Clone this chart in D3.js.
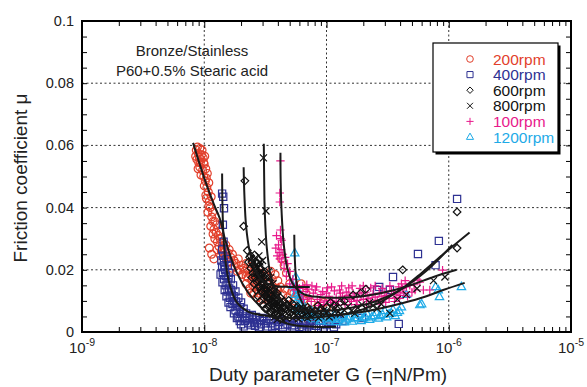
<!DOCTYPE html>
<html>
<head>
<meta charset="utf-8">
<script src="https://cdn.jsdelivr.net/npm/d3@7"></script>
<style>
  body { margin: 0; background: #fff; }
  svg { display: block; font-family: "Liberation Sans", Arial, sans-serif; }
</style>
</head>
<body>
<div id="chart"></div>
<script>
// Friction coefficient vs duty parameter (Stribeck-type plot), log x axis

const G_DECADES = [1e-9, 1e-8, 1e-7, 1e-6, 1e-5];
const G_EXPONENTS = ["-9", "-8", "-7", "-6", "-5"];
const MU_TICKS = [0, 0.02, 0.04, 0.06, 0.08, 0.1];
const MU_LABELS = ["0", "0.02", "0.04", "0.06", "0.08", "0.1"];

const SERIES_NAMES = ["200rpm", "400rpm", "600rpm", "800rpm", "100rpm", "1200rpm"];

// [G, mu]
const rpm200 = [
  [8.6e-9,0.0585],[8.9e-9,0.0575],[9.2e-9,0.059],[9.5e-9,0.057],[8.7e-9,0.0555],[9.0e-9,0.0545],
  [9.4e-9,0.0555],[9.8e-9,0.056],[1.0e-8,0.054],[9.2e-9,0.053],[9.7e-9,0.052],[1.03e-8,0.0525],
  [1.06e-8,0.051],[9.9e-9,0.05],[1.02e-8,0.0485],[1.05e-8,0.0465],[1.08e-8,0.045],[1.04e-8,0.043],
  [1.1e-8,0.042],[1.12e-8,0.04],[1.07e-8,0.0385],[1.15e-8,0.037],[1.18e-8,0.0355],[1.13e-8,0.034],
  [1.2e-8,0.033],[1.25e-8,0.032],[1.3e-8,0.031],[1.22e-8,0.03],[1.28e-8,0.029],[1.35e-8,0.03],
  [1.4e-8,0.0285],[1.32e-8,0.0275],[1.45e-8,0.027],[1.5e-8,0.028],[1.38e-8,0.026],[1.55e-8,0.0255],
  [1.6e-8,0.0265],[1.48e-8,0.0245],[1.65e-8,0.024],[1.7e-8,0.025],[1.75e-8,0.023],[1.58e-8,0.0225],
  [1.82e-8,0.022],[1.9e-8,0.0235],[1.1e-8,0.027],[1.15e-8,0.025],[1.2e-8,0.0235],
  [2.0e-8,0.0215],[2.1e-8,0.0205],[2.2e-8,0.022],[2.3e-8,0.0195],[2.4e-8,0.021],[2.5e-8,0.0185],
  [2.6e-8,0.02],[2.2e-8,0.018],[2.7e-8,0.0175],[2.85e-8,0.019],[3.0e-8,0.0165],[2.45e-8,0.0165],
  [3.2e-8,0.018],[3.4e-8,0.0155],[2.9e-8,0.015],[2.35e-8,0.014],[2.55e-8,0.0125],[2.7e-8,0.011],
  [3.6e-8,0.017],[3.9e-8,0.014],[4.3e-8,0.0235],[4.5e-8,0.0215],[4.7e-8,0.019],[4.4e-8,0.012],
  [4.8e-8,0.011],[5.2e-8,0.013],[5.5e-8,0.01],[6.2e-8,0.0155],[6.0e-8,0.009],[6.8e-8,0.0125],
  [7.5e-8,0.0095],[8.5e-8,0.008],[9.5e-8,0.0095],[1.0e-7,0.0075],[7.3e-8,0.003],
  [8.5e-9,0.0565],[8.8e-9,0.0595],[9.1e-9,0.0562],[9.3e-9,0.0545],[9.6e-9,0.0585],[9.9e-9,0.0545],
  [1.01e-8,0.0565],[8.9e-9,0.0525],[9.4e-9,0.0505],[1.04e-8,0.0495],[1.0e-8,0.047],[1.09e-8,0.048],
  [1.03e-8,0.044],[1.14e-8,0.0435],[1.09e-8,0.0405],[1.17e-8,0.0385],[1.22e-8,0.0355],[1.26e-8,0.0345],
  [1.18e-8,0.0315],[1.33e-8,0.0325],[1.27e-8,0.0265],[1.36e-8,0.0245],[1.42e-8,0.0255],[1.53e-8,0.0235],
  [1.62e-8,0.0225],[1.68e-8,0.0205],[1.78e-8,0.021],[1.86e-8,0.0195],[1.95e-8,0.02],[2.05e-8,0.0185],
  [2.15e-8,0.0195],[2.28e-8,0.0175],[2.38e-8,0.0185],[2.62e-8,0.016],[2.78e-8,0.0145],[2.5e-8,0.015],
  [3.1e-8,0.0135],[3.3e-8,0.0125],[3.55e-8,0.0135],[3.75e-8,0.012],
  [2.2e-8,0.0155],[2.4e-8,0.0125],[2.6e-8,0.0145],[2.8e-8,0.0125],[3.0e-8,0.0105],[3.3e-8,0.0105],
  [3.5e-8,0.0195],[3.8e-8,0.0185],[4.0e-8,0.0165],[4.2e-8,0.0145],[4.6e-8,0.0138],[5.0e-8,0.0155],
  [5.4e-8,0.0125],[5.8e-8,0.0118],[6.5e-8,0.0105]
];

const rpm400 = [
  [1.4e-8,0.0445],[1.43e-8,0.0435],[1.45e-8,0.0398],[1.42e-8,0.0345],[1.44e-8,0.029],[1.4e-8,0.0265],
  [1.43e-8,0.0245],[1.38e-8,0.023],[1.45e-8,0.0225],[1.52e-8,0.0235],[1.4e-8,0.021],[1.48e-8,0.02],
  [1.56e-8,0.0215],[1.42e-8,0.019],[1.5e-8,0.018],[1.6e-8,0.019],[1.45e-8,0.017],[1.55e-8,0.016],
  [1.65e-8,0.017],[1.5e-8,0.015],[1.6e-8,0.014],[1.72e-8,0.015],[1.55e-8,0.013],[1.68e-8,0.012],
  [1.8e-8,0.013],[1.62e-8,0.011],[1.75e-8,0.01],[1.9e-8,0.011],[1.7e-8,0.009],[1.85e-8,0.0085],
  [2.0e-8,0.0095],[1.8e-8,0.007],[1.95e-8,0.0065],[2.1e-8,0.0075],[1.9e-8,0.005],[2.05e-8,0.0045],
  [2.2e-8,0.006],[2.35e-8,0.005],[2.15e-8,0.0035],[2.3e-8,0.0028],[2.5e-8,0.004],[2.7e-8,0.003],
  [2.6e-8,0.002],[2.9e-8,0.0025],[3.1e-8,0.0035],[3.3e-8,0.0018],[3.5e-8,0.0028],[3.8e-8,0.002],
  [4.1e-8,0.0032],[4.4e-8,0.0015],[4.8e-8,0.0025],[5.2e-8,0.0018],[5.6e-8,0.003],[6.0e-8,0.0016],
  [6.5e-8,0.0025],[7.0e-8,0.0018],[7.6e-8,0.003],[8.2e-8,0.002],[9.0e-8,0.0028],[1.0e-7,0.0022],
  [1.1e-7,0.0032],[1.2e-7,0.0025],[1.35e-7,0.0035],
  [1.75e-8,0.006],[1.85e-8,0.0045],[1.95e-8,0.0035],[2.0e-8,0.0025],[2.1e-8,0.0018],[2.25e-8,0.0045],
  [2.4e-8,0.0022],[2.45e-8,0.0055],[2.55e-8,0.003],[2.65e-8,0.0048],[2.8e-8,0.0015],[2.85e-8,0.0038],
  [3.0e-8,0.0045],[3.2e-8,0.0028],[3.4e-8,0.0042],[3.6e-8,0.0015],[3.7e-8,0.0038],[4.0e-8,0.0022],
  [4.3e-8,0.0038],[4.6e-8,0.0022],[5.0e-8,0.0035],[5.4e-8,0.0022],[5.8e-8,0.0038],[6.3e-8,0.0012],
  [6.8e-8,0.0035],[7.3e-8,0.0024],[7.9e-8,0.0013],[8.6e-8,0.0036],[9.5e-8,0.0014],[1.05e-7,0.0028],
  [1.15e-7,0.0015],[1.25e-7,0.0038],
  [1.36e-8,0.0185],[1.41e-8,0.016],[1.47e-8,0.0135],[1.52e-8,0.0115],[1.58e-8,0.0095],[1.64e-8,0.008],
  [1.46e-8,0.0215],[1.58e-8,0.0175],[1.66e-8,0.0135],[1.74e-8,0.0115],[1.82e-8,0.0098],[1.96e-8,0.008],
  [2.08e-8,0.0062],
  [1.17e-6,0.0428],[8.3e-7,0.0293],[5.6e-7,0.0251],[7.8e-7,0.0215],[3.5e-7,0.0177],[2.7e-7,0.0145],
  [2.6e-7,0.0135],[3.3e-7,0.0135],[1.95e-7,0.0045],[3.9e-7,0.0026]
];

const rpm600 = [
  [2.15e-8,0.0486],[2.1e-8,0.034],[2.25e-8,0.0262],[2.35e-8,0.024],[2.45e-8,0.0225],[2.4e-8,0.0205],
  [2.55e-8,0.0215],[2.5e-8,0.019],[2.65e-8,0.02],[2.6e-8,0.0175],[2.75e-8,0.0185],[2.7e-8,0.016],
  [2.85e-8,0.017],[2.8e-8,0.0145],[2.95e-8,0.0155],[3.0e-8,0.013],[3.1e-8,0.014],[3.2e-8,0.012],
  [3.3e-8,0.011],[3.45e-8,0.0125],[3.6e-8,0.01],[3.8e-8,0.0095],[4.0e-8,0.0085],[4.3e-8,0.009],
  [4.6e-8,0.0075],[5.0e-8,0.008],[5.5e-8,0.007],[6.0e-8,0.0075],[6.6e-8,0.0065],[7.2e-8,0.007],
  [8.0e-8,0.0068],[9.0e-8,0.0075],[1.0e-7,0.008],[1.15e-7,0.0085],[1.3e-7,0.0095],
  [2.3e-8,0.0225],[2.4e-8,0.0245],[2.5e-8,0.0235],[2.58e-8,0.021],[2.68e-8,0.019],[2.62e-8,0.0225],
  [2.78e-8,0.0165],[2.9e-8,0.0185],[2.9e-8,0.0135],[3.05e-8,0.0155],[3.15e-8,0.0115],[3.25e-8,0.0135],
  [3.4e-8,0.0105],[3.55e-8,0.0115],[3.7e-8,0.0085],[3.9e-8,0.011],[4.1e-8,0.0095],[4.4e-8,0.0078],
  [4.8e-8,0.0088],[5.2e-8,0.0065],[5.8e-8,0.0082],[6.3e-8,0.006],[7.0e-8,0.008],[7.6e-8,0.006],
  [8.5e-8,0.0085],[9.5e-8,0.0065],[1.08e-7,0.0095],[1.2e-7,0.0075],
  [2.45e-8,0.0175],[2.55e-8,0.0155],[2.65e-8,0.0135],[2.75e-8,0.0115],[2.85e-8,0.0098],[3.0e-8,0.0088],
  [3.15e-8,0.0075],[3.35e-8,0.0082],[3.5e-8,0.0065],[3.75e-8,0.0072],[4.0e-8,0.0058],[4.3e-8,0.0065],
  [2.58e-8,0.0248],[2.72e-8,0.0222],[2.88e-8,0.0205],[3.02e-8,0.0192],[3.18e-8,0.0172],[3.35e-8,0.0162],
  [3.5e-8,0.0145],[3.7e-8,0.0135],[3.95e-8,0.0125],[4.2e-8,0.011],[4.5e-8,0.0098],[4.9e-8,0.0102],
  [5.3e-8,0.009],
  [1.4e-7,0.01],[1.65e-7,0.0119],[1.9e-7,0.0125],[2.1e-7,0.0138],[4.2e-7,0.02],[1.17e-6,0.027],
  [1.17e-6,0.0386]
];

const rpm800 = [
  [3.05e-8,0.056],[3.2e-8,0.0389],[2.95e-8,0.029],[2.8e-8,0.0245],[3.0e-8,0.023],[2.9e-8,0.0215],
  [3.1e-8,0.02],[3.0e-8,0.0185],[3.2e-8,0.0175],[3.15e-8,0.016],[3.35e-8,0.015],[3.3e-8,0.0135],
  [3.5e-8,0.0125],[3.45e-8,0.011],[3.7e-8,0.0105],[3.6e-8,0.009],[3.9e-8,0.0085],[3.8e-8,0.007],
  [4.1e-8,0.0075],[4.3e-8,0.006],[4.6e-8,0.0065],[4.5e-8,0.005],[4.9e-8,0.0055],[5.3e-8,0.0045],
  [5.7e-8,0.0055],[6.2e-8,0.0048],[6.8e-8,0.0058],[7.4e-8,0.005],[8.2e-8,0.006],[9.0e-8,0.0052],
  [1.0e-7,0.0062],[1.1e-7,0.0055],[1.25e-7,0.0065],[1.4e-7,0.007],[1.6e-7,0.0068],[1.8e-7,0.0078],
  [2.1e-7,0.0075],[2.4e-7,0.0085],[2.8e-7,0.009],[3.3e-7,0.006],[3.8e-7,0.0105],[4.5e-7,0.012],
  [5.5e-7,0.014],[7.5e-7,0.0165],[9.3e-7,0.0177],
  [2.85e-8,0.0225],[2.95e-8,0.0195],[3.05e-8,0.0168],[3.1e-8,0.0145],[3.25e-8,0.0125],[3.4e-8,0.0098],
  [3.55e-8,0.008],[3.7e-8,0.0118],[3.85e-8,0.0095],[4.0e-8,0.0062],[4.2e-8,0.0085],[4.4e-8,0.0072],
  [4.7e-8,0.0045],[5.0e-8,0.0068],[5.4e-8,0.006],[5.9e-8,0.0042],[6.4e-8,0.0065],[7.0e-8,0.0045],
  [7.7e-8,0.0068],[8.6e-8,0.0045],[9.5e-8,0.007],[1.05e-7,0.0048],[1.18e-7,0.0075],[1.3e-7,0.0058],
  [1.5e-7,0.0082],[1.7e-7,0.006],[1.95e-7,0.0088],[2.25e-7,0.0095],[2.6e-7,0.0075],
  [2.75e-8,0.0205],[2.82e-8,0.0185],[2.9e-8,0.0165],[2.98e-8,0.014],[3.08e-8,0.0122],[3.2e-8,0.0105],
  [3.3e-8,0.0088],[3.45e-8,0.0072],[3.6e-8,0.0058],[3.75e-8,0.0048],[3.95e-8,0.004],[4.15e-8,0.0048],
  [4.4e-8,0.0038],[3.35e-8,0.0195],[3.5e-8,0.0175],[3.65e-8,0.0155],[3.82e-8,0.0135],[4.0e-8,0.0118],
  [4.25e-8,0.0102],[4.5e-8,0.009],[4.8e-8,0.008],[5.1e-8,0.0088],[5.6e-8,0.0072],[6.1e-8,0.0078],
  [6.7e-8,0.0072]
];

const rpm100 = [
  [4.2e-8,0.055],[4.15e-8,0.0447],[4.15e-8,0.0418],[4.2e-8,0.0328],[4.2e-8,0.03],[4.05e-8,0.028],
  [4.1e-8,0.0255],[4.15e-8,0.0235],[3.9e-8,0.031],[4.3e-8,0.0295],[3.85e-8,0.027],[4.25e-8,0.0265],
  [4.4e-8,0.025],[3.95e-8,0.0245],[4.6e-8,0.024],[4.3e-8,0.0225],[4.8e-8,0.022],[4.5e-8,0.0205],
  [5.0e-8,0.0195],[4.7e-8,0.018],[5.3e-8,0.017],[5.0e-8,0.0155],[5.6e-8,0.015],[5.4e-8,0.0135],
  [6.0e-8,0.014],[6.3e-8,0.012],[6.8e-8,0.013],[7.2e-8,0.011],[7.8e-8,0.0125],[8.4e-8,0.0105],
  [9.0e-8,0.012],[9.7e-8,0.01],[1.05e-7,0.0115],[1.12e-7,0.0095],[1.2e-7,0.011],[1.3e-7,0.0125],
  [1.28e-7,0.0135],[1.4e-7,0.0105],[1.5e-7,0.0118],[1.6e-7,0.0098],[1.7e-7,0.0112],[1.85e-7,0.0125],
  [2.0e-7,0.0105],[2.15e-7,0.0118],[2.3e-7,0.0098],[2.5e-7,0.0112],[2.7e-7,0.0125],[2.9e-7,0.0105],
  [3.1e-7,0.0118],[3.4e-7,0.0132],[3.7e-7,0.011],[3.95e-7,0.0108],[4.2e-7,0.014],[4.8e-7,0.015],
  [4.5e-7,0.0145],[5.3e-7,0.0135],[5.8e-7,0.016],[6.2e-7,0.0135],[7.0e-7,0.0135],[5.6e-7,0.0167],
  [8.9e-7,0.0199],
  [6.5e-8,0.0105],[7.0e-8,0.0138],[7.5e-8,0.0098],[8.1e-8,0.0135],[8.8e-8,0.0095],[9.3e-8,0.013],
  [1.0e-7,0.0125],[1.08e-7,0.0102],[1.16e-7,0.0132],[1.25e-7,0.0098],[1.35e-7,0.0115],[1.45e-7,0.0128],
  [1.55e-7,0.0105],[1.65e-7,0.0125],[1.78e-7,0.0102],[1.92e-7,0.0115],[2.08e-7,0.0128],[2.22e-7,0.0108],
  [2.4e-7,0.0122],[2.6e-7,0.0102],[2.8e-7,0.0115],[3.0e-7,0.0128],[3.25e-7,0.0108],[3.55e-7,0.0122],
  [3.85e-7,0.0128],[4.0e-7,0.0118],[4.3e-7,0.0125],[5.0e-7,0.0128],
  [6.4e-8,0.0148],[6.9e-8,0.0152],[7.6e-8,0.0148],[8.3e-8,0.0145],[8.6e-8,0.0085],[9.5e-8,0.0088],
  [1.02e-7,0.0142],[1.1e-7,0.0145],[1.2e-7,0.0088],[1.33e-7,0.0148],[1.42e-7,0.0088],[1.52e-7,0.0142],
  [1.62e-7,0.0148],[1.75e-7,0.0088],[1.88e-7,0.014],[2.0e-7,0.0148],[2.12e-7,0.009],[2.3e-7,0.0142],
  [2.5e-7,0.0148],[2.7e-7,0.009],[2.85e-7,0.014],[3.05e-7,0.0095],[3.3e-7,0.0148],[3.6e-7,0.0098],
  [3.9e-7,0.0145],[4.1e-7,0.0155],[4.6e-7,0.0115],[5.2e-7,0.0152],[4.4e-7,0.0165]
];

const rpm1200 = [
  [5.5e-8,0.0254],[5.6e-8,0.0177],[5.8e-8,0.0103],[6.0e-8,0.009],[5.3e-8,0.015],[5.7e-8,0.014],
  [5.9e-8,0.0125],[6.1e-8,0.011],[5.5e-8,0.012],[6.5e-8,0.0075],[7.0e-8,0.006],[7.5e-8,0.007],
  [8.0e-8,0.005],[8.6e-8,0.0062],[9.2e-8,0.0045],[1.0e-7,0.0058],[1.08e-7,0.0042],[1.16e-7,0.0055],
  [1.25e-7,0.004],[1.35e-7,0.0052],[1.45e-7,0.0038],[1.55e-7,0.005],[1.7e-7,0.0042],[1.85e-7,0.0055],
  [2.0e-7,0.0045],[2.15e-7,0.0058],[2.35e-7,0.0048],[2.55e-7,0.0062],[2.75e-7,0.0052],[3.0e-7,0.0068],
  [3.25e-7,0.0058],[3.5e-7,0.0072],[3.8e-7,0.0062],[4.1e-7,0.008],
  [6.2e-8,0.0068],[6.8e-8,0.0048],[7.2e-8,0.0058],[7.8e-8,0.0042],[8.3e-8,0.0055],[8.9e-8,0.0035],
  [9.6e-8,0.0048],[1.04e-7,0.0034],[1.12e-7,0.0046],[1.2e-7,0.0033],[1.3e-7,0.0045],[1.4e-7,0.0032],
  [1.5e-7,0.0044],[1.62e-7,0.0034],[1.78e-7,0.0046],[1.92e-7,0.0036],[2.08e-7,0.0048],[2.25e-7,0.004],
  [2.45e-7,0.0052],[2.65e-7,0.0044],[2.88e-7,0.0056],[3.1e-7,0.0048],[3.4e-7,0.006],[3.65e-7,0.0052],
  [3.95e-7,0.0068],[5.8e-8,0.0078],[6.3e-8,0.0095],
  [7.8e-7,0.0145],[8.2e-7,0.0135],[8.4e-7,0.0113],[6.0e-7,0.009],[5.8e-7,0.0087],[1.27e-6,0.0145],
  [4.5e-7,0.012]
];

// fitted curves (black lines), one per speed
const fit200 = [[8.1e-9,0.0608],[1.0e-8,0.0495],[1.2e-8,0.041],[1.34e-8,0.0365],[1.5e-8,0.029],[1.85e-8,0.019],
  [2.3e-8,0.0125],[2.7e-8,0.0093],[3.5e-8,0.0052],[5e-8,0.0025],[8e-8,0.0017],[1.2e-7,0.0017]];
const fit400 = [[1.4e-8,0.051],[1.41e-8,0.04],[1.44e-8,0.03],[1.5e-8,0.022],[1.62e-8,0.015],[1.85e-8,0.0095],
  [2.3e-8,0.0065],[3.5e-8,0.005],[6e-8,0.0045],[1e-7,0.005],[1.6e-7,0.0062],[2.5e-7,0.0088],
  [4e-7,0.0135],[6e-7,0.019],[9e-7,0.025],[1.48e-6,0.032]];
const fit600 = [[2.1e-8,0.053],[2.13e-8,0.044],[2.2e-8,0.034],[2.35e-8,0.026],[2.6e-8,0.02],[3.0e-8,0.0165],
  [3.8e-8,0.0148],[5e-8,0.0145],[7.3e-8,0.0145]];
const fit800 = [[3.07e-8,0.0605],[3.09e-8,0.05],[3.13e-8,0.038],[3.25e-8,0.027],[3.5e-8,0.018],[4e-8,0.0115],
  [5e-8,0.008],[7e-8,0.0068],[1e-7,0.0068],[1.6e-7,0.0078],[2.5e-7,0.0098],[4e-7,0.0135],
  [6.5e-7,0.0195],[1.07e-6,0.028]];
const fit100 = [[4.2e-8,0.0576],[4.22e-8,0.048],[4.3e-8,0.038],[4.45e-8,0.029],[4.75e-8,0.021],[5.3e-8,0.0155],
  [6.5e-8,0.0122],[9e-8,0.0112],[1.3e-7,0.011],[2e-7,0.0115],[3.2e-7,0.013],[5e-7,0.0152],
  [7.5e-7,0.0177],[1.16e-6,0.02]];
const fit1200 = [[5.45e-8,0.0313],[5.5e-8,0.024],[5.65e-8,0.017],[6e-8,0.0115],[6.8e-8,0.0078],[8.5e-8,0.006],
  [1.2e-7,0.0055],[2e-7,0.0065],[3.5e-7,0.0085],[6e-7,0.011],[9e-7,0.0135],[1.35e-6,0.0158]];

const colors = {
  "200rpm": "#e2402c",
  "400rpm": "#2e3192",
  "600rpm": "#111111",
  "800rpm": "#111111",
  "100rpm": "#e8198b",
  "1200rpm": "#1eaae7",
};

const shapes = {
  "200rpm": "circle",
  "400rpm": "square",
  "600rpm": "diamond",
  "800rpm": "times",
  "100rpm": "plus",
  "1200rpm": "triangle",
};

const series = {
  "200rpm": rpm200, "400rpm": rpm400, "600rpm": rpm600,
  "800rpm": rpm800, "100rpm": rpm100, "1200rpm": rpm1200,
};

const W = 587, H = 387;
const margin = { top: 21, right: 16, bottom: 55, left: 82 };
const width = W - margin.left - margin.right;
const height = H - margin.top - margin.bottom;

const svg = d3.select("#chart").append("svg")
  .attr("width", W).attr("height", H);

const g = svg.append("g")
  .attr("transform", `translate(${margin.left},${margin.top})`);

const x = d3.scaleLog().domain([1e-9, 1e-5]).range([0, width]);
const y = d3.scaleLinear().domain([0, 0.1]).range([height, 0]);

// dotted grid
g.append("g").selectAll("line")
  .data(G_DECADES.slice(1, -1)).join("line")
  .attr("x1", d => x(d)).attr("x2", d => x(d))
  .attr("y1", 0).attr("y2", height)
  .attr("stroke", "#333").attr("stroke-width", 1).attr("stroke-dasharray", "2,2.5");
g.append("g").selectAll("line")
  .data(MU_TICKS.slice(1, -1)).join("line")
  .attr("x1", 0).attr("x2", width)
  .attr("y1", d => y(d)).attr("y2", d => y(d))
  .attr("stroke", "#333").attr("stroke-width", 1).attr("stroke-dasharray", "2,2.5");

// inward ticks on all four sides
const minorG = [];
G_DECADES.slice(0, -1).forEach(d => { for (let m = 2; m <= 9; m++) minorG.push(m * d); });
const minorMu = d3.range(0, 21).map(i => i * 0.005);

function tickAxis(axis, transform) {
  const a = g.append("g").attr("transform", transform).call(axis);
  a.select(".domain").remove();
  a.selectAll("line").attr("stroke", "#000").attr("stroke-width", 1);
  return a;
}
tickAxis(d3.axisBottom(x).tickValues(minorG).tickSize(-5).tickFormat(""), `translate(0,${height})`);
tickAxis(d3.axisTop(x).tickValues(minorG).tickSize(-5).tickFormat(""), "translate(0,0)");
tickAxis(d3.axisBottom(x).tickValues(G_DECADES).tickSize(-7).tickFormat(""), `translate(0,${height})`);
tickAxis(d3.axisTop(x).tickValues(G_DECADES).tickSize(-7).tickFormat(""), "translate(0,0)");
tickAxis(d3.axisLeft(y).tickValues(minorMu).tickSize(-5).tickFormat(""), "translate(0,0)");
tickAxis(d3.axisRight(y).tickValues(minorMu).tickSize(-5).tickFormat(""), `translate(${width},0)`);

// markers
function markerPath(shape, s = 1) {
  const p = d3.path();
  if (shape === "square") { p.rect(-3.6 * s, -3.6 * s, 7.2 * s, 7.2 * s); }
  else if (shape === "diamond") { p.moveTo(0, -3.8 * s); p.lineTo(3.8 * s, 0); p.lineTo(0, 3.8 * s); p.lineTo(-3.8 * s, 0); p.closePath(); }
  else if (shape === "times") { p.moveTo(-3.5 * s, -3.5 * s); p.lineTo(3.5 * s, 3.5 * s); p.moveTo(-3.5 * s, 3.5 * s); p.lineTo(3.5 * s, -3.5 * s); }
  else if (shape === "plus") { p.moveTo(-4.2 * s, 0); p.lineTo(4.2 * s, 0); p.moveTo(0, -4.2 * s); p.lineTo(0, 4.2 * s); }
  else if (shape === "triangle") { p.moveTo(0, -4.6 * s); p.lineTo(4.2 * s, 2.8 * s); p.lineTo(-4.2 * s, 2.8 * s); p.closePath(); }
  else { p.arc(0, 0, 3.9 * s, 0, 2 * Math.PI); }
  return p.toString();
}

const drawOrder = ["200rpm", "400rpm", "1200rpm", "100rpm", "600rpm", "800rpm"];
drawOrder.forEach(name => {
  g.append("g").selectAll("path")
    .data(series[name]).join("path")
    .attr("transform", d => `translate(${x(d[0])},${y(d[1])})`)
    .attr("d", markerPath(shapes[name]))
    .attr("fill", "none")
    .attr("stroke", colors[name])
    .attr("stroke-width", 1.2);
});

// fit lines
const line = d3.line()
  .x(d => x(d[0])).y(d => y(d[1]))
  .curve(d3.curveCatmullRom.alpha(0.5));
[fit200, fit400, fit600, fit800, fit100, fit1200].forEach(f => {
  g.append("path").datum(f)
    .attr("d", line)
    .attr("fill", "none")
    .attr("stroke", "#1a1a1a")
    .attr("stroke-width", 2);
});

// frame
g.append("rect")
  .attr("width", width).attr("height", height)
  .attr("fill", "none").attr("stroke", "#000").attr("stroke-width", 2);

// tick labels
g.append("g").selectAll("text")
  .data(MU_TICKS).join("text")
  .attr("x", -8).attr("y", d => y(d)).attr("dy", "0.35em")
  .attr("text-anchor", "end").attr("font-size", 14.5).attr("fill", "#222")
  .text((d, i) => MU_LABELS[i]);

const xl = g.append("g").selectAll("text")
  .data(G_DECADES).join("text")
  .attr("x", d => x(d)).attr("y", height + 21)
  .attr("text-anchor", "middle").attr("font-size", 15).attr("fill", "#222");
xl.append("tspan").text("10");
xl.append("tspan").attr("dy", -7).attr("font-size", 10.5).text((d, i) => G_EXPONENTS[i]);

// axis titles
svg.append("text")
  .attr("x", 328).attr("y", 381)
  .attr("text-anchor", "middle").attr("font-size", 19).attr("fill", "#222")
  .text("Duty parameter G (=ηN/Pm)");
svg.append("text")
  .attr("transform", "translate(27,178) rotate(-90)")
  .attr("text-anchor", "middle").attr("font-size", 19).attr("fill", "#222")
  .text("Friction coefficient μ");

// annotation
svg.append("text").attr("x", 192).attr("y", 56)
  .attr("text-anchor", "middle").attr("font-size", 15).attr("fill", "#222")
  .text("Bronze/Stainless");
svg.append("text").attr("x", 192).attr("y", 76)
  .attr("text-anchor", "middle").attr("font-size", 15).attr("fill", "#222")
  .text("P60+0.5% Stearic acid");

// legend with drop shadow
const lg = svg.append("g").attr("transform", "translate(433,43)");
lg.append("rect").attr("x", 2.5).attr("y", 2.5).attr("width", 125).attr("height", 109).attr("fill", "#000");
lg.append("rect").attr("width", 125).attr("height", 109)
  .attr("fill", "#fff").attr("stroke", "#000").attr("stroke-width", 1.2);
const items = lg.selectAll("g.item")
  .data(SERIES_NAMES).join("g")
  .attr("class", "item")
  .attr("transform", (d, i) => `translate(0,${16 + i * 15.6})`);
items.append("path")
  .attr("transform", "translate(37,0)")
  .attr("d", d => markerPath(shapes[d], 0.85))
  .attr("fill", "none").attr("stroke", d => colors[d]).attr("stroke-width", 1);
items.append("text")
  .attr("x", 60).attr("y", 5.5)
  .attr("font-size", 15.5).attr("fill", d => colors[d])
  .text(d => d);
</script>
</body>
</html>
